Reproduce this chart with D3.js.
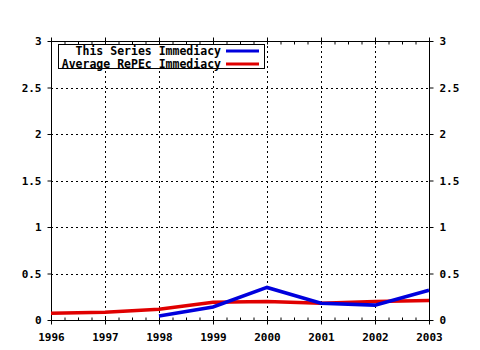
<!DOCTYPE html>
<html><head><meta charset="utf-8">
<script src="https://cdn.jsdelivr.net/npm/d3@7"></script>
<style>body{margin:0;background:#fff}svg{display:block}text{font-family:"DejaVu Sans Mono",monospace;font-weight:bold;font-size:11px;fill:#000}</style>
</head><body><svg id="c" width="480" height="350"></svg>
<script>
const years = [1996, 1997, 1998, 1999, 2000, 2001, 2002, 2003];
const seriesYears = [1998, 1999, 2000, 2001, 2002, 2003];
const seriesImmediacy = [0.043, 0.14, 0.35, 0.18, 0.16, 0.32];
const averageImmediacy = [0.072, 0.083, 0.115, 0.19, 0.20, 0.18, 0.20, 0.21];
const yTicks = [0, 0.5, 1, 1.5, 2, 2.5, 3];
const yTickLabels = ["0", "0.5", "1", "1.5", "2", "2.5", "3"];
const legendLabels = ["This Series Immediacy", "Average RePEc Immediacy"];
const colors = ["#0000dd", "#e00000"];

const svg = d3.select("#c");
const L = 51, R = 429, T = 41, B = 320;
const x = d3.scaleLinear().domain([1996, 2003]).range([L, R]);
const y = d3.scaleLinear().domain([0, 3]).range([B, T]);

// grid
const g = svg.append("g").attr("stroke", "#000").attr("stroke-width", 1).attr("stroke-dasharray", "2,3");
g.selectAll(".vg").data(years.slice(1, -1)).join("line")
  .attr("x1", d => Math.round(x(d)) + 0.5).attr("x2", d => Math.round(x(d)) + 0.5)
  .attr("y1", T).attr("y2", B);
g.selectAll(".hg").data(yTicks.slice(1, -1)).join("line")
  .attr("y1", d => Math.round(y(d)) + 0.5).attr("y2", d => Math.round(y(d)) + 0.5)
  .attr("x1", L).attr("x2", R);

// axes
const fmt = d => yTickLabels[yTicks.indexOf(d)];
const axL = d3.axisLeft(y).tickValues(yTicks).tickFormat(fmt).tickSize(4).tickPadding(6);
const axR = d3.axisRight(y).tickValues(yTicks).tickFormat(fmt).tickSize(4).tickPadding(6);
const axB = d3.axisBottom(x).tickValues(years).tickFormat(d3.format("d")).tickSize(4).tickPadding(9);
const minor = d3.range(1996, 2003.001, 0.25);
const axBm = d3.axisBottom(x).tickValues(minor).tickFormat("").tickSize(-3);
const axTm = d3.axisTop(x).tickValues(minor).tickFormat("").tickSize(-3);
const axT = d3.axisTop(x).tickValues(years).tickFormat("").tickSize(4);
function style(sel){ sel.select(".domain").remove(); sel.selectAll("line").attr("stroke","#000"); sel.selectAll("text").attr("fill","#000"); }
svg.append("g").attr("transform", `translate(${L+0.5},0)`).call(axL).call(style);
svg.append("g").attr("transform", `translate(${R+0.5},0)`).call(axR).call(style);
svg.append("g").attr("transform", `translate(0,${B+0.5})`).call(axB).call(style);
svg.append("g").attr("transform", `translate(0,${B+0.5})`).call(axBm).call(style);
svg.append("g").attr("transform", `translate(0,${T+0.5})`).call(axTm).call(style);
svg.append("g").attr("transform", `translate(0,${T+0.5})`).call(axT).call(style);
svg.append("rect").attr("x", L+0.5).attr("y", T+0.5).attr("width", R-L).attr("height", B-T)
  .attr("fill", "none").attr("stroke", "#000");

// lines
const line = d3.line().x(d => x(d[0])).y(d => y(d[1]));
svg.append("path").datum(years.map((yr, i) => [yr, averageImmediacy[i]]))
  .attr("d", line).attr("fill", "none").attr("stroke", colors[1]).attr("stroke-width", 3.5);
svg.append("path").datum(seriesYears.map((yr, i) => [yr, seriesImmediacy[i]]))
  .attr("d", line).attr("fill", "none").attr("stroke", colors[0]).attr("stroke-width", 3.5);

// legend
const lg = svg.append("g");
lg.append("rect").attr("x", 58.5).attr("y", 44.5).attr("width", 206).attr("height", 24)
  .attr("fill", "#fff").attr("stroke", "#000");
legendLabels.forEach((t, i) => {
  const yy = 51 + i * 13;
  lg.append("text").attr("x", 221).attr("y", yy).attr("dy", "0.35em").attr("text-anchor", "end")
    .style("font-size", "11.5px").text(t);
  lg.append("line").attr("x1", 226).attr("x2", 259).attr("y1", yy).attr("y2", yy)
    .attr("stroke", colors[i]).attr("stroke-width", 3);
});
</script></body></html>
